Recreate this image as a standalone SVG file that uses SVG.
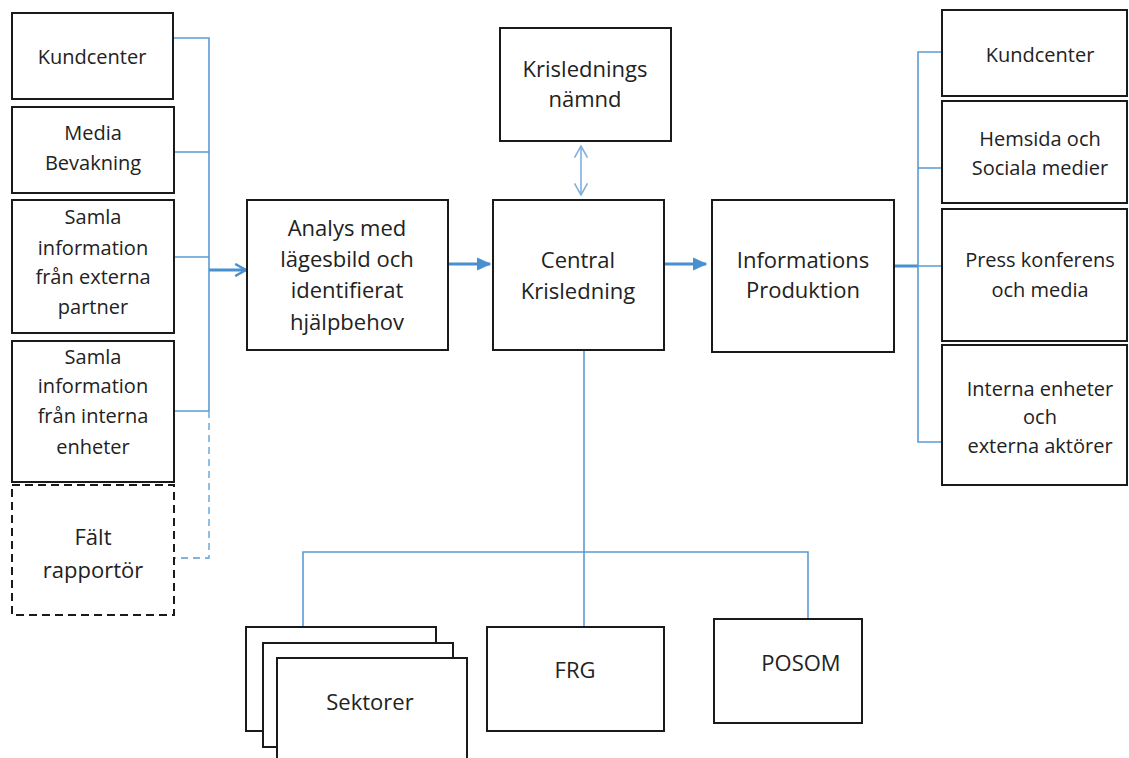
<svg xmlns="http://www.w3.org/2000/svg" width="1129" height="758" viewBox="0 0 1129 758">
<defs>
<style>
.box{fill:#fff;stroke:#1a1a1a;stroke-width:2}
.dash{fill:#fff;stroke:#1a1a1a;stroke-width:2;stroke-dasharray:8 5}
.t{font-family:"Open Sans","Noto Sans",sans-serif;font-size:20px;fill:#222;text-anchor:middle}
.tl{font-family:"Open Sans","Noto Sans",sans-serif;font-size:22px;fill:#222;text-anchor:middle}
.c{fill:none;stroke:#5b9bd5;stroke-width:1.6}
.cd{fill:none;stroke:#5b9bd5;stroke-width:1.3;stroke-dasharray:7 5}
.a{fill:none;stroke:#4a8fd0;stroke-width:3}
</style>
<marker id="tri" viewBox="0 0 10 10" refX="9" refY="5" markerWidth="5" markerHeight="5" orient="auto" markerUnits="strokeWidth">
<path d="M0,0.5 L10,5 L0,9.5 Z" fill="#4a8fd0"/>
</marker>
<marker id="chev" viewBox="0 0 10 10" refX="9" refY="5" markerWidth="4.5" markerHeight="4.5" orient="auto" markerUnits="strokeWidth">
<path d="M1,0.5 L9,5 L1,9.5" fill="none" stroke="#4a8fd0" stroke-width="1.8"/>
</marker>
<marker id="chev2" viewBox="0 0 10 10" refX="9" refY="5" markerWidth="9" markerHeight="10" orient="auto-start-reverse" markerUnits="strokeWidth">
<path d="M1,0.5 L9,5 L1,9.5" fill="none" stroke="#7fb0dc" stroke-width="1.1"/>
</marker>
</defs>
<rect width="1129" height="758" fill="#fff"/>

<g id="connectors">
<path class="c" d="M173,38 H209 V411 M174,152 H209 M174,257 H209 M174,411 H209"/>
<path class="cd" d="M209,411 V558 H174"/>
<line class="a" x1="209" y1="270" x2="246" y2="270" marker-end="url(#chev)"/>
<line class="a" x1="448" y1="264" x2="490" y2="264" marker-end="url(#tri)"/>
<line class="a" x1="665" y1="264" x2="706" y2="264" marker-end="url(#tri)"/>
<line x1="581" y1="146" x2="581" y2="195" stroke="#7fb0dc" stroke-width="1.6" marker-start="url(#chev2)" marker-end="url(#chev2)"/>
<path class="a" d="M895,266 H918"/>
<path class="c" d="M942,52 H918 V442 H942 M918,168 H942 M918,266 H942"/>
<path class="c" d="M584,351 V627 M303,627 V552 H808 V619"/>
</g>

<g id="n-kundcenter-l"><rect class="box" x="12" y="13" width="161" height="86"/><text class="t" x="92" y="64">Kundcenter</text></g>
<g id="n-media"><rect class="box" x="12" y="107" width="162" height="86"/><text class="t" x="93" y="140">Media</text><text class="t" x="93" y="170">Bevakning</text></g>
<g id="n-samla-ext"><rect class="box" x="12" y="200" width="162" height="133"/><text class="t" x="93" y="224">Samla</text><text class="t" x="93" y="255">information</text><text class="t" x="93" y="284">från externa</text><text class="t" x="93" y="314">partner</text></g>
<g id="n-samla-int"><rect class="box" x="12" y="341" width="162" height="141"/><text class="t" x="93" y="364">Samla</text><text class="t" x="93" y="393">information</text><text class="t" x="93" y="423">från interna</text><text class="t" x="93" y="454">enheter</text></g>
<g id="n-falt"><rect class="dash" x="12" y="485" width="162" height="130"/><text class="tl" x="93" y="545">Fält</text><text class="tl" x="93" y="578">rapportör</text></g>

<g id="n-analys"><rect class="box" x="247" y="200" width="201" height="150"/><text class="tl" x="347" y="236">Analys med</text><text class="tl" x="347" y="267">lägesbild och</text><text class="tl" x="347" y="298">identifierat</text><text class="tl" x="347" y="330">hjälpbehov</text></g>
<g id="n-central"><rect class="box" x="493" y="200" width="171" height="150"/><text class="tl" x="578" y="268">Central</text><text class="tl" x="578" y="299">Krisledning</text></g>
<g id="n-namnd"><rect class="box" x="500" y="28" width="171" height="113"/><text class="tl" x="585" y="77">Krislednings</text><text class="tl" x="585" y="107">nämnd</text></g>
<g id="n-info"><rect class="box" x="712" y="200" width="182" height="152"/><text class="tl" x="803" y="268">Informations</text><text class="tl" x="803" y="298">Produktion</text></g>

<g id="n-kundcenter-r"><rect class="box" x="942" y="10" width="185" height="86"/><text class="t" x="1040" y="62">Kundcenter</text></g>
<g id="n-hemsida"><rect class="box" x="942" y="101" width="185" height="102"/><text class="t" x="1040" y="146">Hemsida och</text><text class="t" x="1040" y="175">Sociala medier</text></g>
<g id="n-press"><rect class="box" x="942" y="209" width="185" height="132"/><text class="t" x="1040" y="267">Press konferens</text><text class="t" x="1040" y="297">och media</text></g>
<g id="n-interna"><rect class="box" x="942" y="345" width="185" height="140"/><text class="t" x="1040" y="396">Interna enheter</text><text class="t" x="1040" y="424">och</text><text class="t" x="1040" y="453">externa aktörer</text></g>

<g id="n-sektorer"><rect class="box" x="246" y="627" width="190" height="104"/><rect class="box" x="263" y="643" width="190" height="104"/><rect class="box" x="277" y="658" width="190" height="110"/><text class="tl" x="370" y="710">Sektorer</text></g>
<g id="n-frg"><rect class="box" x="487" y="627" width="177" height="104"/><text class="tl" x="575" y="678">FRG</text></g>
<g id="n-posom"><rect class="box" x="714" y="619" width="148" height="104"/><text class="tl" x="801" y="671">POSOM</text></g>
</svg>
